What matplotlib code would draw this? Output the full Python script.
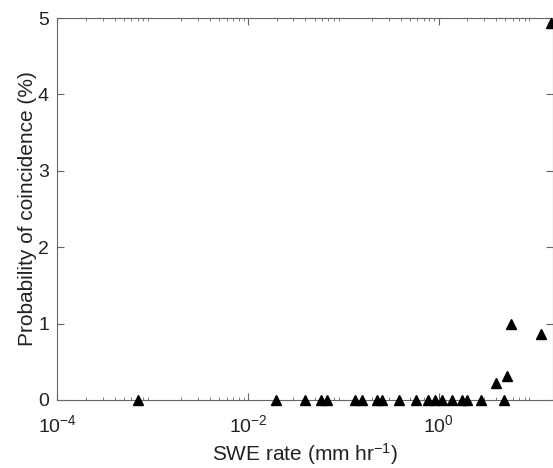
import matplotlib
matplotlib.use("Agg")
import matplotlib.pyplot as plt
from matplotlib.ticker import LogLocator, NullFormatter, FixedLocator

plt.rcParams['font.family'] = ['Liberation Sans', 'DejaVu Sans']
plt.rcParams['mathtext.fontset'] = 'custom'
plt.rcParams['mathtext.rm'] = 'Liberation Sans'
plt.rcParams['mathtext.it'] = 'Liberation Sans'

# Data
swe_rate = [7.0e-4, 0.0197, 0.040, 0.058, 0.068, 0.133, 0.156, 0.225, 0.254,
            0.385, 0.58, 0.78, 0.92, 1.08, 1.37, 1.77, 1.97, 2.77, 4.83,
            4.0, 5.2, 5.73, 11.9, 15.3]
prob = [0, 0, 0, 0, 0, 0, 0, 0, 0,
        0, 0, 0, 0, 0, 0, 0, 0, 0, 0,
        0.22, 0.32, 1.0, 0.86, 4.93]

x_ticks = [1e-4, 1e-2, 1e0]
x_ticklabels = [r'$10^{-4}$', r'$10^{-2}$', r'$10^{0}$']
y_ticks = [0, 1, 2, 3, 4, 5]

fig = plt.figure(figsize=(5.53, 4.68), dpi=100)
ax = fig.add_axes([0.1036, 0.1453, 0.8964, 0.8162])

ax.plot(swe_rate, prob, linestyle='none', marker='^', color='black',
        markersize=7.5, clip_on=False, zorder=5)

ax.set_xscale('log')
ax.set_xlim(1e-4, 15.9)
ax.set_ylim(0, 5)

ax.xaxis.set_major_locator(FixedLocator(x_ticks))
ax.set_xticklabels(x_ticklabels)
ax.xaxis.set_minor_locator(LogLocator(base=10, subs=range(2, 10), numticks=20))
ax.xaxis.set_minor_formatter(NullFormatter())
ax.set_yticks(y_ticks)

axcol = '#666666'
for s in ax.spines.values():
    s.set_color(axcol)
    s.set_linewidth(0.8)

ax.tick_params(which='both', direction='in', top=True, right=True,
               color=axcol, labelsize=14, labelcolor='#222222')
ax.tick_params(which='major', length=5)
ax.tick_params(which='minor', length=2.5)
ax.tick_params(axis='x', pad=10)
ax.tick_params(axis='y', pad=6)

ax.set_xlabel(r'SWE rate (mm hr$^{-1}$)', fontsize=15, color='#222222', labelpad=4)
ax.set_ylabel('Probability of coincidence (%)', fontsize=15, color='#222222', labelpad=1)

fig.savefig('out.png', dpi=100)
